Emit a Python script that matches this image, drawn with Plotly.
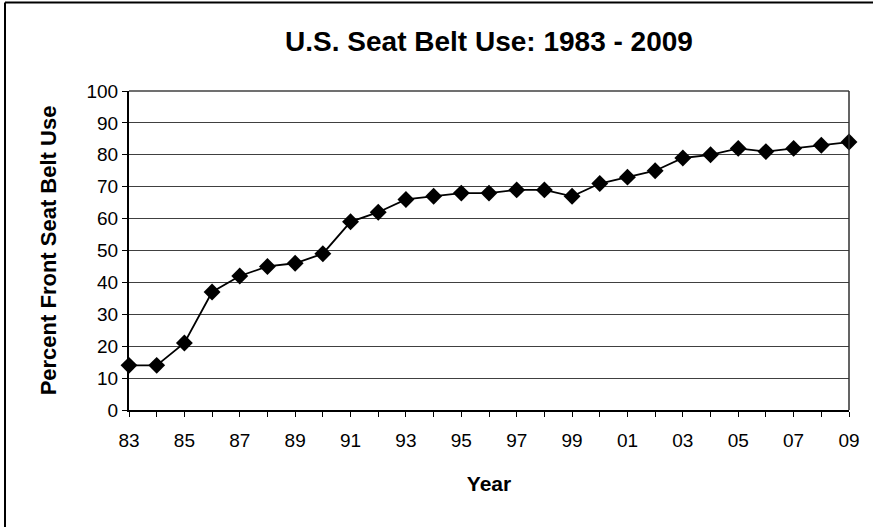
import plotly.graph_objects as go

years = list(range(1983, 2010))
belt_use = [14, 14, 21, 37, 42, 45, 46, 49, 59, 62, 66, 67, 68, 68, 69, 69, 67,
            71, 73, 75, 79, 80, 82, 81, 82, 83, 84]
x_tick_years = years[::2]
x_tick_labels = ["83", "85", "87", "89", "91", "93", "95", "97", "99", "01",
                 "03", "05", "07", "09"]
y_ticks = list(range(0, 101, 10))

FONT = "Liberation Sans, Arial, sans-serif"

fig = go.Figure()
fig.add_trace(go.Scatter(
    x=years, y=belt_use, mode="lines+markers",
    line=dict(color="black", width=1.8),
    marker=dict(symbol="diamond", size=13, color="black"),
    cliponaxis=False, showlegend=False,
))

L, R, T, B = 129, 24, 91, 117
W, H = 873, 527
pw = W - L - R
ph = H - T - B

fig.update_layout(
    width=W, height=H,
    margin=dict(l=L, r=R, t=T, b=B),
    paper_bgcolor="white", plot_bgcolor="white",
    font=dict(family=FONT, color="black", size=19),
    title=dict(text="<b>U.S. Seat Belt Use: 1983 - 2009</b>",
               x=0.5, xref="paper", xanchor="center",
               y=1 - 41 / H, yanchor="middle",
               font=dict(size=28, family=FONT, color="black")),
    xaxis=dict(
        range=[1983, 2009], tickmode="array",
        tickvals=x_tick_years, ticktext=x_tick_labels,
        ticks="outside", ticklen=5, tickcolor="black", tickwidth=1,
        minor=dict(ticks="outside", dtick=1, tick0=1983, ticklen=5,
                   tickcolor="black", showgrid=False),
        showgrid=False, zeroline=False,
        showline=True, linecolor="black", linewidth=2, mirror=False,
        tickfont=dict(size=19), ticklabelstandoff=7,
        title=dict(text="<b>Year</b>", font=dict(size=21), standoff=27),
    ),
    yaxis=dict(
        range=[0, 100], tickmode="array", tickvals=y_ticks,
        ticks="outside", ticklen=5, tickcolor="black",
        showgrid=True, gridcolor="#404040", gridwidth=1, zeroline=False,
        showline=True, linecolor="black", linewidth=2, mirror=False,
        tickfont=dict(size=19), ticklabelstandoff=0,
        title=dict(text="<b>Percent Front Seat Belt Use</b>", font=dict(size=22),
                   standoff=24),
    ),
    shapes=[
        dict(type="line", xref="paper", yref="paper", x0=0, x1=1, y0=1, y1=1,
             line=dict(color="#404040", width=1.5)),
        dict(type="line", xref="paper", yref="paper", x0=1, x1=1, y0=0, y1=1,
             line=dict(color="#303030", width=1.5)),
        dict(type="line", xref="paper", yref="paper",
             x0=(5 - L) / pw, x1=(W - L) / pw,
             y0=(H - B - 2.5) / ph, y1=(H - B - 2.5) / ph,
             line=dict(color="black", width=2)),
        dict(type="line", xref="paper", yref="paper",
             x0=(5 - L) / pw, x1=(5 - L) / pw,
             y0=(H - B - 2.5) / ph, y1=-(B) / ph,
             line=dict(color="black", width=2)),
    ],
)

fig.write_html(
    "out.html",
    config={"displayModeBar": False},
    post_script="document.body.style.margin='0';document.body.style.overflow='hidden';",
)
